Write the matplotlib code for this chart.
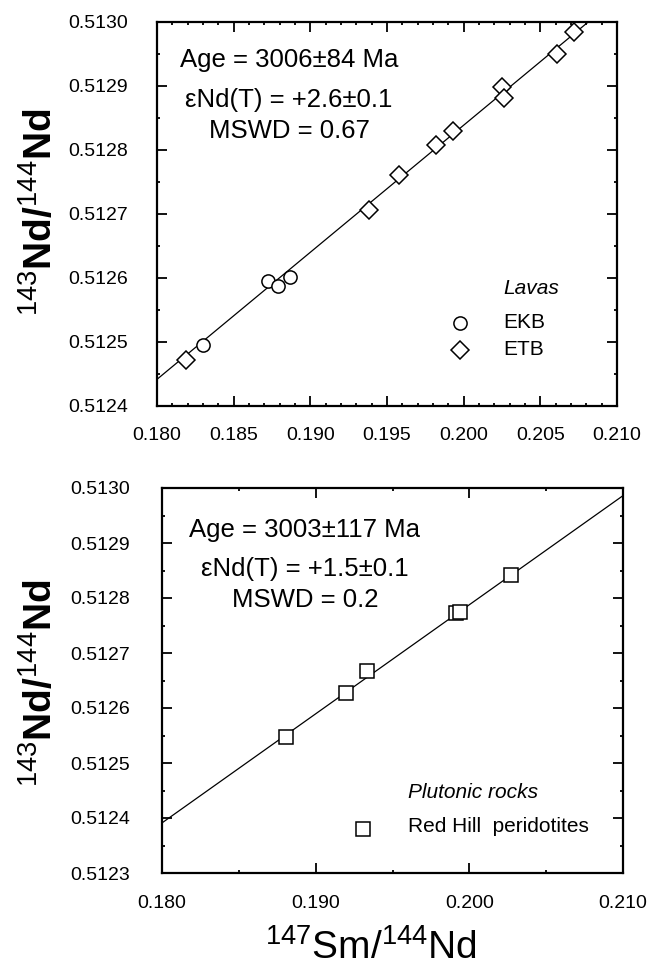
import numpy as np
import matplotlib.pyplot as plt
from matplotlib.ticker import MultipleLocator, FormatStrFormatter

plt.rcParams['font.family'] = ['Liberation Sans', 'DejaVu Sans']
plt.rcParams['mathtext.fontset'] = 'custom'
plt.rcParams['mathtext.rm'] = 'Liberation Sans'
plt.rcParams['mathtext.bf'] = 'Liberation Sans:bold'
plt.rcParams['mathtext.it'] = 'Liberation Sans:italic'

# lavas (top panel)
ekb_sm = [0.18299, 0.18723, 0.18786, 0.18868]
ekb_nd = [0.512495, 0.512595, 0.512588, 0.512601]
etb_sm = [0.18186, 0.19380, 0.19575, 0.19820, 0.19932, 0.20249, 0.20264, 0.20610, 0.20718]
etb_nd = [0.512472, 0.512707, 0.512761, 0.512808, 0.512829, 0.512898, 0.512882, 0.512950, 0.512984]

# plutonic rocks (bottom panel)
rh_sm = [0.18810, 0.19197, 0.19336, 0.19914, 0.19942, 0.20273]
rh_nd = [0.512548, 0.512627, 0.512667, 0.512772, 0.512775, 0.512841]

# isochron fits
LAMBDA = 6.54e-12
age_lavas, nd0_lavas = 3006e6, 0.508868
age_plut, nd0_plut = 3003e6, 0.508821

lavas_text = ['Age = 3006\u00b184 Ma', '\u03b5Nd(T) = +2.6\u00b10.1', 'MSWD = 0.67']
plut_text = ['Age = 3003\u00b1117 Ma', '\u03b5Nd(T) = +1.5\u00b10.1', 'MSWD = 0.2']


def isochron(ax, age, nd0):
    x = np.linspace(0.180, 0.210, 50)
    slope = np.exp(LAMBDA * age) - 1
    ax.plot(x, nd0 + slope * x, color='black', lw=0.9, zorder=1)


def style_axes(ax, xmajor, xminor, ylim, xpad, ypad):
    ax.set_xlim(0.180, 0.210)
    ax.set_ylim(*ylim)
    ax.xaxis.set_major_locator(MultipleLocator(xmajor))
    ax.xaxis.set_minor_locator(MultipleLocator(xminor))
    ax.yaxis.set_major_locator(MultipleLocator(0.0001))
    ax.yaxis.set_minor_locator(MultipleLocator(0.00005))
    ax.xaxis.set_major_formatter(FormatStrFormatter('%.3f'))
    ax.yaxis.set_major_formatter(FormatStrFormatter('%.4f'))
    ax.tick_params(which='both', direction='in', top=True, right=True, labelsize=14)
    ax.tick_params(which='major', length=7, width=1.3)
    ax.tick_params(which='minor', length=2.5, width=1.3)
    ax.tick_params(axis='x', pad=xpad)
    ax.tick_params(axis='y', pad=ypad)
    for s in ax.spines.values():
        s.set_linewidth(1.6)


def annotate(ax, lines, cx, ys):
    for t, y in zip(lines, ys):
        ax.text(cx, y, t, transform=ax.transAxes, ha='center', va='center', fontsize=18.5)


fig = plt.figure(figsize=(6.5, 9.68), dpi=100)
W, H = 650, 968

# top panel
ax1 = fig.add_axes([157 / W, 1 - 406 / H, 460 / W, 384 / H])
isochron(ax1, age_lavas, nd0_lavas)
ax1.plot(ekb_sm, ekb_nd, 'o', ms=9.5, mfc='white', mec='black', mew=1.1, zorder=3)
ax1.plot(etb_sm, etb_nd, 'D', ms=9.5, mfc='white', mec='black', mew=1.1, zorder=3)
style_axes(ax1, 0.005, 0.001, (0.5124, 0.5130), 15, 21)
annotate(ax1, lavas_text, 0.287, [0.901, 0.796, 0.715])
ax1.text(0.752, 0.305, 'Lavas', transform=ax1.transAxes, fontsize=15, style='italic', va='center')
ax1.text(0.752, 0.217, 'EKB', transform=ax1.transAxes, fontsize=15, va='center')
ax1.text(0.752, 0.146, 'ETB', transform=ax1.transAxes, fontsize=15, va='center')
ax1.plot([0.659], [0.217], 'o', ms=9.5, mfc='white', mec='black', mew=1.1, transform=ax1.transAxes)
ax1.plot([0.659], [0.146], 'D', ms=9.5, mfc='white', mec='black', mew=1.1, transform=ax1.transAxes)

# bottom panel
ax2 = fig.add_axes([162 / W, 1 - 873 / H, 461 / W, 385 / H])
isochron(ax2, age_plut, nd0_plut)
ax2.plot(rh_sm, rh_nd, 's', ms=10, mfc='white', mec='black', mew=1.1, zorder=3)
style_axes(ax2, 0.010, 0.005, (0.5123, 0.5130), 16, 23)
annotate(ax2, plut_text, 0.31, [0.891, 0.790, 0.709])
ax2.text(0.534, 0.210, 'Plutonic rocks', transform=ax2.transAxes, fontsize=15, style='italic', va='center')
ax2.text(0.534, 0.122, 'Red Hill  peridotites', transform=ax2.transAxes, fontsize=15, va='center')
ax2.plot([0.436], [0.114], 's', ms=10, mfc='white', mec='black', mew=1.1, transform=ax2.transAxes)

# axis titles
ylab = r'$^{143}\mathbf{Nd/}^{144}\mathbf{Nd}$'
fig.text(40 / W, 1 - 212 / H, ylab, rotation=90, ha='center', va='center', fontsize=28)
fig.text(40 / W, 1 - 683 / H, ylab, rotation=90, ha='center', va='center', fontsize=28)
fig.text(371 / W, 1 - 948 / H, r'$^{147}\mathrm{Sm/}^{144}\mathrm{Nd}$', ha='center', va='center', fontsize=28)

fig.savefig('out.png', dpi=100)
